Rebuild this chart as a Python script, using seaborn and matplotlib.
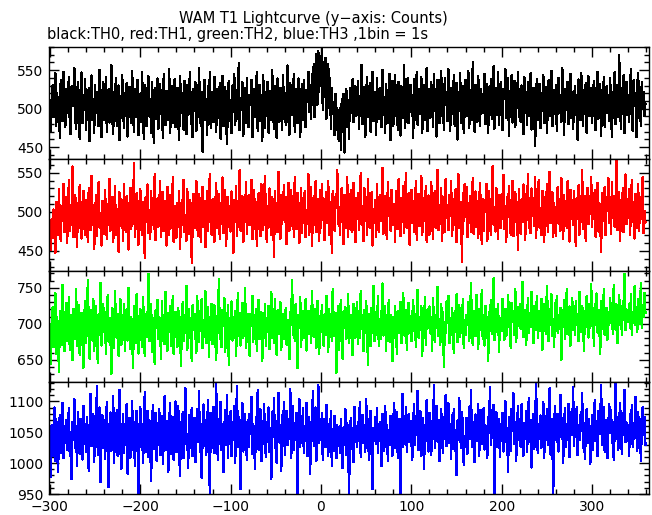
import matplotlib
matplotlib.use("Agg")
import matplotlib.pyplot as plt
from matplotlib.ticker import MultipleLocator
import numpy as np
import pandas as pd
import seaborn as sns

#%% Data (counts per 1 s bin, starting at t = -300 s)
t_start = -300

th0_counts = [
    498, 471, 512, 530, 489, 505, 546, 478, 520, 493, 515, 462, 537, 501, 484, 548, 509, 476, 526, 495,
    510, 541, 483, 467, 529, 503, 519, 552, 488, 474, 507, 535, 496, 461, 523, 547, 481, 512, 499, 538,
    472, 516, 490, 527, 458, 505, 543, 486, 513, 469, 531, 494, 508, 521, 477, 550, 500, 463, 518, 534,
    485, 509, 541, 470, 497, 525, 482, 514, 556, 491, 467, 522, 506, 539, 478, 503, 530, 459, 516, 488,
    544, 499, 475, 520, 507, 533, 464, 495, 528, 512, 481, 549, 502, 470, 526, 489, 511, 537, 466, 504,
    519, 483, 548, 496, 461, 531, 508, 477, 524, 542, 490, 513, 469, 535, 501, 456, 527, 487, 515, 539,
    474, 506, 532, 493, 518, 462, 545, 500, 479, 523, 510, 486, 551, 468, 497, 529, 482, 514, 538, 476,
    503, 527, 488, 460, 542, 511, 495, 520, 473, 536, 504, 467, 530, 492, 517, 548, 480, 509, 463, 526,
    497, 534, 471, 515, 489, 553, 502, 478, 521, 444, 508, 537, 486, 513, 466, 529, 494, 547, 475, 510,
    522, 483, 541, 499, 470, 525, 507, 488, 533, 461, 516, 542, 477, 505, 528, 491, 454, 519, 536, 484,
    511, 468, 530, 496, 545, 479, 503, 524, 487, 559, 472, 514, 498, 534, 465, 509, 527, 482, 540, 493,
    476, 518, 505, 537, 463, 500, 526, 489, 512, 548, 471, 496, 531, 484, 517, 458, 543, 506, 475, 521,
    490, 535, 469, 508, 523, 486, 550, 497, 474, 529, 515, 462, 539, 501, 483, 527, 510, 472, 544, 495,
    520, 479, 512, 556, 487, 466, 533, 505, 492, 518, 545, 470, 507, 526, 481, 539, 498, 463, 514, 532,
    485, 537, 501, 476, 524, 509, 548, 496, 530, 487, 545, 512, 558, 489, 541, 571, 505, 575, 522, 568,
    532, 579, 498, 560, 515, 566, 487, 539, 558, 501, 540, 474, 527, 493, 508, 466, 519, 472, 501, 463,
    458, 501, 447, 512, 470, 519, 443, 498, 525, 476, 509, 461, 527, 494, 512, 538, 483, 506, 529, 491,
    503, 536, 474, 514, 492, 557, 480, 507, 528, 463, 519, 541, 489, 501, 533, 470, 512, 548, 484, 497,
    521, 466, 539, 500, 487, 527, 511, 476, 550, 494, 515, 468, 532, 506, 482, 524, 545, 459, 510, 536,
    478, 509, 544, 491, 520, 473, 535, 502, 465, 529, 513, 488, 556, 475, 500, 522, 540, 481, 506, 531,
    496, 517, 462, 538, 485, 510, 547, 479, 526, 493, 514, 541, 469, 503, 530, 486, 519, 553, 471, 508,
    525, 488, 534, 509, 476, 545, 498, 520, 464, 537, 502, 481, 528, 549, 490, 512, 473, 539, 505, 522,
    484, 551, 500, 471, 527, 514, 493, 543, 478, 506, 533, 460, 518, 497, 546, 482, 511, 529, 468, 503,
    537, 490, 519, 549, 475, 508, 524, 486, 561, 499, 470, 531, 515, 483, 542, 504, 477, 526, 512, 494,
    516, 545, 480, 507, 532, 469, 521, 498, 538, 487, 511, 555, 474, 503, 527, 492, 548, 479, 514, 535,
    501, 472, 526, 513, 551, 488, 506, 539, 465, 523, 497, 543, 482, 510, 536, 476, 519, 504, 547, 489,
    512, 483, 530, 498, 467, 541, 505, 522, 479, 534, 491, 516, 546, 473, 508, 527, 495, 452, 519, 538,
    486, 509, 532, 475, 520, 497, 544, 481, 513, 528, 468, 505, 537, 490, 516, 549, 477, 502, 524, 493,
    530, 471, 511, 540, 495, 518, 483, 553, 507, 466, 526, 499, 514, 535, 480, 509, 545, 488, 521, 474,
    506, 529, 492, 517, 460, 538, 501, 485, 546, 512, 478, 524, 497, 533, 469, 515, 542, 490, 508, 527,
    481, 513, 536, 499, 472, 525, 548, 487, 510, 532, 465, 519, 503, 541, 476, 508, 529, 494, 518, 484,
    539, 497, 464, 522, 506, 547, 480, 515, 531, 489, 570, 502, 474, 527, 511, 543, 468, 509, 535, 492,
    518, 483, 526, 551, 495, 471, 537, 504, 520, 463, 529, 546, 488, 512, 477, 534, 500, 522, 490, 507,
]

th1_counts = [
    478, 452, 491, 467, 503, 486, 448, 512, 495, 470, 529, 481, 463, 507, 489, 536, 474, 498, 519, 460,
    493, 541, 476, 505, 484, 558, 468, 497, 522, 487, 455, 511, 479, 534, 492, 466, 508, 527, 483, 471,
    515, 488, 462, 530, 499, 477, 546, 485, 509, 453, 494, 521, 469, 503, 538, 480, 496, 457, 514, 489,
    472, 528, 494, 465, 510, 483, 542, 476, 501, 519, 461, 487, 533, 470, 504, 491, 449, 525, 482, 516,
    497, 463, 536, 489, 474, 520, 507, 452, 492, 531, 478, 510, 485, 563, 468, 499, 524, 481, 458, 506,
    529, 484, 470, 512, 496, 441, 519, 487, 535, 473, 502, 466, 527, 490, 509, 478, 548, 464, 495, 517,
    481, 505, 539, 468, 492, 525, 476, 514, 499, 457, 532, 486, 470, 521, 503, 479, 544, 462, 508, 488,
    467, 511, 494, 527, 453, 500, 483, 518, 541, 474, 496, 463, 529, 490, 472, 515, 506, 435, 488, 523,
    502, 479, 540, 486, 469, 523, 508, 461, 497, 532, 481, 514, 455, 493, 527, 476, 510, 548, 484, 471,
    516, 490, 462, 504, 537, 479, 498, 523, 466, 511, 485, 544, 473, 500, 528, 457, 492, 519, 481, 507,
    475, 526, 495, 448, 515, 487, 533, 469, 502, 481, 553, 476, 496, 520, 461, 509, 488, 538, 472, 499,
    521, 483, 507, 541, 465, 494, 528, 478, 512, 456, 497, 524, 486, 469, 535, 501, 477, 514, 546, 489,
    462, 508, 480, 530, 495, 471, 519, 503, 443, 526, 488, 511, 474, 551, 493, 466, 522, 485, 505, 534,
    487, 519, 459, 500, 537, 476, 492, 528, 482, 513, 468, 545, 497, 478, 524, 506, 460, 490, 531, 473,
    511, 494, 526, 468, 502, 485, 548, 471, 509, 532, 457, 495, 520, 483, 539, 474, 499, 516, 463, 528,
    479, 536, 490, 517, 464, 503, 525, 486, 540, 470, 498, 513, 448, 527, 492, 476, 519, 505, 553, 484,
    506, 471, 514, 531, 487, 459, 522, 497, 480, 545, 468, 510, 493, 528, 475, 502, 537, 483, 461, 518,
    492, 524, 477, 508, 549, 484, 501, 463, 530, 489, 516, 470, 542, 496, 479, 511, 525, 457, 503, 486,
    515, 468, 535, 490, 474, 521, 506, 488, 556, 472, 497, 520, 481, 465, 538, 499, 512, 476, 528, 494,
    483, 510, 461, 527, 496, 478, 542, 503, 469, 518, 487, 533, 473, 505, 550, 480, 493, 524, 458, 509,
    528, 486, 514, 475, 501, 539, 464, 497, 523, 482, 511, 546, 470, 494, 517, 488, 533, 462, 506, 521,
    471, 503, 538, 489, 466, 512, 527, 480, 495, 554, 477, 509, 485, 531, 463, 500, 519, 474, 542, 492,
    509, 477, 522, 498, 540, 469, 493, 516, 483, 529, 461, 506, 548, 479, 497, 513, 436, 524, 488, 535,
    494, 532, 468, 511, 486, 520, 475, 504, 543, 472, 499, 526, 481, 514, 467, 508, 537, 490, 459, 517,
    476, 515, 500, 536, 463, 489, 527, 493, 470, 512, 558, 484, 506, 475, 531, 498, 466, 521, 502, 480,
    523, 491, 547, 478, 508, 462, 519, 496, 533, 485, 471, 514, 540, 469, 503, 525, 487, 510, 452, 529,
    498, 472, 516, 487, 535, 506, 464, 523, 492, 548, 479, 510, 473, 530, 495, 518, 482, 544, 467, 501,
    514, 541, 480, 505, 470, 527, 497, 462, 519, 489, 536, 474, 508, 551, 486, 499, 525, 468, 511, 493,
    469, 508, 532, 485, 517, 476, 543, 501, 466, 522, 495, 512, 479, 539, 504, 462, 528, 491, 515, 483,
    526, 490, 457, 518, 500, 534, 471, 509, 487, 553, 478, 496, 520, 463, 507, 531, 484, 512, 498, 545,
    481, 515, 496, 528, 468, 503, 537, 475, 511, 492, 449, 524, 488, 506, 532, 470, 519, 501, 543, 486,
    507, 472, 538, 494, 520, 481, 509, 565, 477, 496, 525, 463, 513, 489, 530, 474, 502, 548, 484, 516,
    493, 529, 470, 505, 541, 487, 512, 466, 523, 498, 480, 535, 476, 508, 519, 491, 544, 473, 501, 486,
]

th2_counts = [
    682, 645, 701, 723, 668, 697, 742, 659, 710, 685, 633, 718, 693, 671, 754, 688, 662, 706, 729, 676,
    698, 737, 664, 712, 687, 650, 721, 695, 679, 748, 669, 703, 726, 657, 691, 715, 683, 639, 709, 732,
    674, 705, 761, 688, 652, 719, 696, 677, 735, 663, 700, 724, 686, 646, 713, 692, 757, 670, 701, 727,
    689, 716, 658, 697, 740, 675, 708, 684, 631, 722, 694, 667, 745, 701, 680, 713, 656, 690, 734, 671,
    705, 683, 728, 662, 699, 720, 677, 750, 691, 665, 710, 688, 639, 724, 696, 673, 741, 685, 659, 707,
    721, 690, 668, 737, 700, 655, 714, 682, 703, 769, 676, 694, 727, 661, 708, 686, 645, 719, 698, 733,
    679, 710, 693, 652, 731, 687, 704, 672, 744, 697, 663, 715, 689, 725, 670, 701, 738, 658, 692, 716,
    700, 668, 722, 685, 709, 641, 695, 730, 676, 712, 688, 753, 664, 703, 720, 681, 697, 648, 726, 692,
    714, 687, 660, 738, 698, 675, 717, 691, 734, 666, 705, 682, 745, 673, 699, 723, 654, 710, 689, 728,
    672, 703, 726, 684, 650, 711, 693, 762, 679, 706, 668, 719, 697, 736, 661, 702, 685, 726, 643, 708,
    695, 731, 677, 709, 688, 718, 656, 700, 742, 683, 715, 670, 694, 729, 681, 705, 749, 666, 691, 713,
    683, 656, 714, 697, 739, 675, 701, 688, 721, 662, 707, 733, 679, 696, 716, 648, 704, 687, 727, 669,
    708, 690, 725, 665, 698, 744, 681, 710, 674, 735, 693, 657, 719, 702, 686, 730, 664, 699, 713, 679,
    696, 722, 671, 705, 687, 651, 716, 699, 760, 684, 703, 677, 727, 691, 639, 712, 695, 737, 668, 706,
    717, 680, 702, 734, 663, 694, 718, 686, 709, 673, 746, 698, 682, 721, 705, 667, 732, 690, 658, 711,
    689, 726, 697, 670, 713, 685, 739, 704, 661, 720, 692, 709, 676, 748, 700, 683, 715, 632, 698, 724,
    664, 706, 733, 688, 652, 717, 695, 723, 679, 701, 741, 673, 694, 712, 686, 657, 728, 697, 681, 715,
    730, 672, 702, 681, 745, 693, 708, 662, 719, 687, 731, 698, 643, 713, 704, 670, 722, 688, 753, 676,
    697, 716, 685, 738, 669, 702, 679, 710, 756, 684, 699, 725, 662, 707, 690, 733, 675, 712, 696, 648,
    709, 681, 724, 694, 659, 718, 701, 687, 730, 673, 706, 742, 684, 697, 719, 664, 703, 729, 688, 711,
    676, 705, 733, 690, 714, 668, 699, 747, 681, 710, 692, 724, 655, 702, 686, 737, 671, 708, 720, 695,
    724, 688, 710, 662, 736, 697, 675, 712, 700, 751, 683, 706, 671, 728, 694, 716, 640, 703, 687, 731,
    701, 739, 673, 707, 685, 722, 694, 660, 717, 689, 741, 675, 703, 726, 682, 710, 696, 734, 667, 705,
    684, 712, 698, 730, 676, 703, 757, 690, 671, 718, 699, 683, 740, 706, 665, 721, 692, 710, 747, 679,
    712, 670, 725, 693, 709, 648, 716, 701, 733, 686, 704, 763, 678, 697, 720, 689, 727, 661, 708, 694,
    690, 735, 707, 678, 721, 699, 684, 740, 711, 692, 667, 729, 703, 718, 685, 748, 675, 706, 723, 697,
    727, 693, 712, 758, 682, 705, 719, 671, 700, 736, 688, 714, 696, 744, 707, 673, 725, 691, 710, 739,
    681, 718, 702, 690, 735, 664, 709, 727, 695, 686, 752, 711, 676, 720, 698, 741, 683, 706, 668, 729,
    705, 739, 687, 712, 693, 722, 650, 716, 701, 733, 679, 697, 748, 708, 685, 724, 670, 713, 736, 692,
    720, 684, 731, 699, 713, 676, 744, 703, 689, 725, 710, 662, 718, 696, 738, 707, 681, 727, 694, 755,
    697, 715, 670, 728, 706, 742, 688, 719, 701, 659, 731, 713, 693, 748, 684, 707, 722, 678, 716, 699,
    736, 702, 721, 686, 754, 709, 692, 727, 673, 714, 740, 698, 715, 685, 731, 705, 769, 691, 720, 710,
    703, 728, 695, 741, 684, 716, 707, 752, 698, 723, 689, 734, 712, 700, 757, 694, 726, 709, 743, 715,
]

th3_counts = [
    1035, 978, 1062, 1012, 1048, 1090, 1003, 1071, 1029, 985, 1054, 1078, 1017, 1044, 1097, 1008, 1060, 1032, 1070, 1021,
    1052, 1089, 1011, 1046, 974, 1067, 1038, 1104, 1025, 1058, 996, 1083, 1040, 1015, 1072, 1049, 1006, 1093, 1031, 1063,
    1019, 1075, 1043, 987, 1060, 1112, 1028, 1051, 1080, 1002, 1066, 1037, 1125, 1013, 1055, 1090, 969, 1041, 1077, 1024,
    1069, 1007, 1047, 1099, 1034, 961, 1058, 1082, 1020, 1045, 1109, 1000, 1063, 1036, 1086, 1012, 1053, 1118, 1027, 990,
    1044, 1079, 1016, 1061, 1030, 1096, 983, 1050, 1073, 1009, 1039, 1101, 1022, 1067, 995, 1056, 1085, 1033, 945, 1048,
    1091, 1026, 1064, 1001, 1042, 1115, 1018, 1057, 1084, 1010, 1070, 1035, 972, 1059, 1094, 1023, 1046, 1081, 1004, 1065,
    1030, 1087, 1013, 1053, 1076, 998, 1041, 1108, 1021, 1068, 1039, 985, 1062, 1097, 1015, 1050, 1074, 1005, 1043, 1100,
    1018, 1056, 1092, 1027, 979, 1066, 1040, 1083, 1008, 1059, 1121, 1031, 1047, 993, 1078, 1024, 1061, 1089, 1011, 1052,
    1073, 1002, 1045, 1088, 1034, 1117, 1019, 1063, 976, 1049, 1095, 1028, 1070, 1014, 1055, 1102, 1037, 949, 1081, 1025,
    1046, 1091, 1016, 1060, 1128, 1033, 1005, 1072, 1042, 1099, 1021, 1064, 985, 1053, 1086, 1030, 1110, 1009, 1058, 1040,
    1084, 1012, 1067, 1038, 1093, 1001, 1055, 1124, 1026, 1075, 1044, 958, 1061, 1097, 1019, 1050, 1079, 1032, 1006, 1069,
    1027, 1080, 1048, 1107, 1015, 1063, 1036, 991, 1074, 1052, 1118, 1022, 1045, 1087, 1003, 1059, 1031, 1095, 1041, 1010,
    1066, 1035, 1090, 1018, 1057, 975, 1083, 1043, 1106, 1024, 1068, 1000, 1051, 1114, 1034, 1062, 987, 1078, 1047, 1099,
    1013, 1058, 1085, 1029, 1071, 1040, 1120, 1008, 1054, 1092, 1021, 1065, 1037, 1081, 944, 1049, 1103, 1026, 1073, 1044,
    1089, 1017, 1060, 1036, 1098, 1011, 1075, 1053, 983, 1067, 1042, 1116, 1028, 1059, 1090, 1004, 1048, 1127, 1032, 1070,
    1039, 1081, 1005, 1052, 1072, 1026, 1094, 1045, 1012, 1063, 1037, 1084, 996, 1055, 1020, 1076, 1043, 1008, 1061, 1034,
    1050, 1017, 1071, 1041, 992, 1058, 1030, 1087, 1014, 1065, 1047, 952, 1039, 1073, 1023, 1056, 1002, 1091, 1035, 1060,
    1027, 1066, 1044, 1099, 1010, 1053, 1078, 1033, 1062, 1019, 1104, 1040, 1071, 1006, 1049, 1085, 1025, 958, 1057, 1036,
    1074, 1031, 1089, 1016, 1058, 1042, 1067, 995, 1080, 1048, 1020, 1093, 1037, 1061, 1003, 1054, 1029, 1076, 1044, 1012,
    1065, 1098, 1024, 1051, 1083, 1009, 1046, 1072, 941, 1038, 1112, 1027, 1060, 1043, 1090, 1018, 1055, 1079, 1034, 1068,
    1040, 1006, 1063, 1095, 1029, 1071, 1050, 1117, 1021, 1057, 1084, 1011, 1046, 1073, 990, 1062, 1036, 1102, 1047, 1019,
    1081, 1052, 1014, 1068, 1039, 1126, 1025, 1059, 1093, 1035, 1070, 1003, 1056, 1087, 1041, 1017, 1075, 1049, 1110, 1028,
    1058, 1097, 1032, 1064, 1007, 1077, 1045, 1088, 1020, 1053, 981, 1069, 1038, 1105, 1050, 1024, 1082, 1061, 997, 1044,
    1033, 1073, 1015, 1056, 1091, 1040, 1119, 1027, 1066, 1048, 1002, 1079, 1036, 1063, 1095, 1012, 1054, 1086, 1031, 1070,
    1089, 1022, 1061, 1046, 1008, 1075, 1053, 1123, 1030, 1067, 1041, 1094, 947, 1058, 1083, 1026, 1049, 1072, 1010, 1064,
    1043, 1081, 1019, 1062, 1100, 1035, 1057, 985, 1074, 1045, 1020, 1088, 1052, 1113, 1031, 1066, 1004, 1059, 1092, 1038,
    1071, 1027, 1095, 1048, 1012, 1065, 1040, 1084, 1018, 1056, 1106, 1034, 1069, 993, 1050, 1080, 1023, 1061, 1128, 1045,
    1016, 1063, 1039, 1077, 1025, 1054, 1099, 1008, 1068, 1043, 1087, 1030, 1057, 1121, 1014, 1072, 1047, 951, 1060, 1092,
    1055, 1034, 1080, 1019, 1066, 1110, 1042, 1073, 1001, 1058, 1089, 1026, 1063, 1038, 1096, 1010, 1051, 1082, 1046, 1123,
    1028, 1069, 1044, 1090, 1013, 1061, 1037, 1078, 1052, 1114, 1024, 1065, 1007, 1049, 1087, 1033, 1072, 1056, 999, 1040,
    1077, 1021, 1058, 1102, 1036, 1068, 1011, 1084, 1047, 1063, 1126, 1030, 1055, 1091, 1018, 1070, 1043, 1008, 1059, 1095,
    1049, 1086, 1032, 1067, 1005, 1053, 1128, 1039, 1074, 1022, 1060, 1098, 1045, 1015, 1081, 1057, 1119, 1034, 1066, 1041,
    1062, 1012, 1079, 1048, 1094, 1027, 1065, 1040, 1107, 1054, 1020, 1083, 1036, 1071, 1003, 1058, 1090, 1046, 1075, 1029,
]

channels = ['TH0', 'TH1', 'TH2', 'TH3']
colors = ['#000000', '#ff0000', '#00ff00', '#0000ff']
ylims = [(435, 580), (425, 568), (619, 774), (950, 1131)]
yticks = [[450, 500, 550], [450, 500, 550], [650, 700, 750], [950, 1000, 1050, 1100]]

#%% Build long frame
frames = []
for ch, vals in zip(channels, [th0_counts, th1_counts, th2_counts, th3_counts]):
    frames.append(pd.DataFrame({'Time': t_start + np.arange(len(vals)),
                                'Counts': vals, 'Channel': ch}))
df = pd.concat(frames, ignore_index=True)

#%% Plot
sns.set_style('ticks')
plt.rcParams['font.family'] = ['DejaVu Sans']
plt.rcParams['text.color'] = 'black'

fig = plt.figure(figsize=(6.52, 5.15), dpi=100)
left, right = 49 / 652, 649 / 652
top, bottom = 1 - 47 / 515, 1 - 494 / 515
h = (top - bottom) / 4

axes = []
for i, ch in enumerate(channels):
    ax = fig.add_axes([left, top - (i + 1) * h, right - left, h])
    sns.lineplot(data=df[df.Channel == ch], x='Time', y='Counts', color=colors[i],
                 linewidth=1.0, estimator=None, errorbar=None, antialiased=False, ax=ax)
    ax.set_xlim(-301, 363)
    ax.set_ylim(*ylims[i])
    ax.set_yticks(yticks[i])
    ax.xaxis.set_major_locator(MultipleLocator(100))
    ax.xaxis.set_minor_locator(MultipleLocator(20))
    ax.yaxis.set_minor_locator(MultipleLocator(10))
    ax.tick_params(which='both', direction='in', top=True, right=True,
                   labelsize=10, colors='black', width=1)
    ax.tick_params(which='major', length=7, pad=4)
    ax.tick_params(which='minor', length=3.5)
    ax.tick_params(axis='x', which='major', pad=4)
    ax.set_xlabel('')
    ax.set_ylabel('')
    for s in ax.spines.values():
        s.set_linewidth(1)
        s.set_color('black')
    if i < 3:
        ax.tick_params(labelbottom=False)
    axes.append(ax)

fig.text(313 / 652, 1 - 18 / 515, 'WAM T1 Lightcurve (y\u2212axis: Counts)',
         ha='center', va='center', fontsize=10.5)
fig.text(47 / 652, 1 - 35 / 515, 'black:TH0, red:TH1, green:TH2, blue:TH3 ,1bin = 1s',
         ha='left', va='center', fontsize=10.5)

fig.savefig('out.png', dpi=100, facecolor='white')
